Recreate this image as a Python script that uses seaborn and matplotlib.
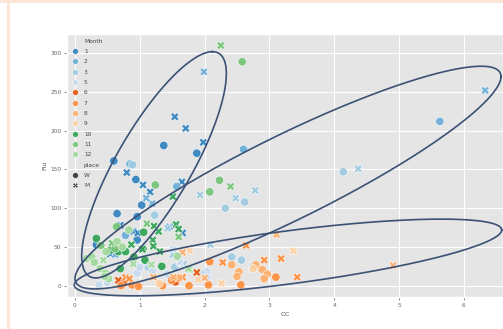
import numpy as np
import pandas as pd
import matplotlib
matplotlib.use("Agg")
import matplotlib.pyplot as plt
import seaborn as sns
from matplotlib.patches import Rectangle
from seaborn.utils import adjust_legend_subtitles

plt.style.use("ggplot")
plt.rcParams["font.family"] = ["DejaVu Sans"]

# ---- data -------------------------------------------------------------
month_order = ["1", "2", "3", "5", "6", "7", "8", "9", "10", "11", "12"]
place_order = ["W", "M"]

oc = [
    # month 1
    0.60, 1.37, 1.88, 0.94, 0.65, 1.03, 0.96, 0.96, 0.33,
    1.54, 1.71, 1.98, 0.80, 1.05, 1.16, 1.65, 1.66, 0.70, 0.90, 0.97, 0.54,
    # month 2
    0.85, 2.60, 5.63, 0.78, 1.57,
    1.99, 6.33, 1.19, 1.10, 1.46, 0.62,
    # month 3
    0.89, 1.23, 2.32, 2.62, 4.14, 2.42, 2.57, 1.54, 1.13,
    4.37, 2.48, 2.78, 1.93, 1.51, 2.09, 1.43, 1.68,
    # month 5
    0.37, 0.96, 1.00, 2.03, 1.97, 1.20, 0.50, 1.42,
    1.52, 1.62, 2.73, 2.05, 1.10,
    # month 6
    0.75, 1.55,
    1.88, 0.67,
    # month 7
    1.35, 1.76, 2.06, 2.56, 3.10, 2.08, 0.88, 0.98, 1.49, 0.71,
    2.64, 2.92, 3.18, 3.43, 2.28, 1.66, 0.78, 0.84,
    # month 8
    2.53, 2.50, 2.79, 2.89, 2.97, 2.92, 2.42, 1.60,
    3.11, 4.91, 1.66, 1.52, 1.21, 2.00,
    # month 9
    2.75, 1.30,
    3.37, 2.26, 1.77, 1.90,
    # month 10
    0.33, 0.55, 0.67, 0.78, 0.91, 1.06, 1.05, 1.08, 1.34, 0.70,
    1.51, 1.56, 1.22, 1.60, 1.29, 1.20, 1.21, 1.31, 0.87, 1.04,
    # month 11
    2.23, 2.08, 1.24, 2.58, 0.64, 0.62, 0.40,
    2.25, 2.40, 1.60, 1.11, 0.57,
    # month 12
    0.18, 0.26, 0.65, 0.48, 0.39, 0.47, 0.52, 0.46, 0.83, 0.73, 1.58, 0.30,
    0.44, 1.18, 1.77, 1.75, 0.90,
]

flu = [
    # month 1
    161, 181, 171, 137, 93, 104, 89, 59, 53,
    218, 203, 185, 146, 130, 121, 134, 68, 78, 70, 68, 41,
    # month 2
    157, 176, 212, 65, 128,
    276, 252, 106, 113, 76, 40,
    # month 3
    156, 91, 100, 108, 147, 37, 33, 24, 24,
    151, 113, 123, 117, 40, 53, 74, 28,
    # month 5
    1, 16, 24, 18, 15, 19, 4, 15,
    47, 30, 25, 10, 30,
    # month 6
    3, 5,
    17, 7,
    # month 7
    0, 0, 1, 1, 11, 31, 1, -1, 7, 0,
    52, 33, 35, 11, 30, 11, 11, 9,
    # month 8
    18, 12, 27, 21, 15, 9, 27, 10,
    66, 26, 43, 11, 11, 10,
    # month 9
    22, 3,
    45, 3, 45, 8,
    # month 10
    61, 46, 44, 44, 37, 69, 48, 33, 25, 22,
    115, 79, 77, 73, 70, 59, 51, 44, 53, 47,
    # month 11
    136, 121, 130, 289, 76, 48, 52,
    310, 128, 63, 80, 55,
    # month 12
    35, 37, 57, 44, 22, 16, 9, 12, 72, 50, 38, 30,
    33, 27, 21, 22, 28,
]

month = (["1"] * 21 + ["2"] * 11 + ["3"] * 17 + ["5"] * 13 + ["6"] * 4
         + ["7"] * 18 + ["8"] * 14 + ["9"] * 6 + ["10"] * 20 + ["11"] * 12
         + ["12"] * 17)

place = (["W"] * 9 + ["M"] * 12 + ["W"] * 5 + ["M"] * 6 + ["W"] * 9 + ["M"] * 8
         + ["W"] * 8 + ["M"] * 5 + ["W"] * 2 + ["M"] * 2 + ["W"] * 10 + ["M"] * 8
         + ["W"] * 8 + ["M"] * 6 + ["W"] * 2 + ["M"] * 4 + ["W"] * 10 + ["M"] * 10
         + ["W"] * 7 + ["M"] * 5 + ["W"] * 12 + ["M"] * 5)

# ellipse overlays (center, conjugate half-axes) in data units
ell_center = [(1.22, 156.0), (3.287, 139.5), (3.287, 36.4)]
ell_u = [(0.90, 146.0), (3.287, 130.3), (3.298, 35.5)]
ell_v = [(0.66, 0.0), (0.0, 60.6), (0.0, 34.5)]

df = pd.DataFrame({"OC": oc, "Flu": flu, "Month": month, "place": place})

tab = sns.color_palette("tab20c", 20).as_hex()
palette = dict(zip(month_order, [tab[0], tab[1], tab[2], tab[3], tab[4], tab[5],
                                 tab[6], tab[7], tab[8], tab[9], tab[10]]))

# ---- figure -----------------------------------------------------------
fig = plt.figure(figsize=(5.03, 3.29), dpi=100)
fig.patch.set_facecolor("white")
fig.patches.append(Rectangle((0, 1 - 2.5 / 329), 1, 2.5 / 329, transform=fig.transFigure,
                             facecolor="#fde6d8", edgecolor="none", zorder=-1))
fig.patches.append(Rectangle((7 / 503, 0), 2.5 / 503, 1, transform=fig.transFigure,
                             facecolor="#fde6d8", edgecolor="none", zorder=-1))

ax = fig.add_axes([67 / 503, 32 / 329, 436 / 503, 263 / 329])

sns.scatterplot(data=df, x="OC", y="Flu", hue="Month", style="place",
                hue_order=month_order, style_order=place_order,
                markers={"W": "o", "M": "X"}, palette=palette, alpha=0.92,
                s=36, linewidth=0.4, edgecolor="white", ax=ax, zorder=3)

t = np.linspace(0, 2 * np.pi, 500)
for (cx, cy), (ux, uy), (vx, vy) in zip(ell_center, ell_u, ell_v):
    ax.plot(cx + ux * np.cos(t) + vx * np.sin(t),
            cy + uy * np.cos(t) + vy * np.sin(t),
            color="#3b5175", lw=1.2, zorder=4)

ax.set_xlim(-0.123, 6.605)
ax.set_ylim(-14.6, 324.8)
ax.set_xticks(range(0, 7))
ax.set_yticks(range(0, 301, 50))
ax.tick_params(labelsize=4.2, colors="#666666", length=2, width=0.5, pad=2)
ax.set_xlabel("OC", fontsize=4.6, color="#555555", labelpad=3)
ax.set_ylabel("Flu", fontsize=4.6, color="#555555", labelpad=2)

handles, labels = ax.get_legend_handles_labels()
leg = ax.legend(handles, labels, loc="upper left", fontsize=4.2, frameon=False,
                markerscale=0.7, handlelength=1.2, handletextpad=0.9,
                labelspacing=0.9, borderaxespad=0.4, borderpad=0.4)
for txt in leg.get_texts():
    txt.set_color("#444444")
adjust_legend_subtitles(leg)

fig.savefig("out.png", dpi=100)
